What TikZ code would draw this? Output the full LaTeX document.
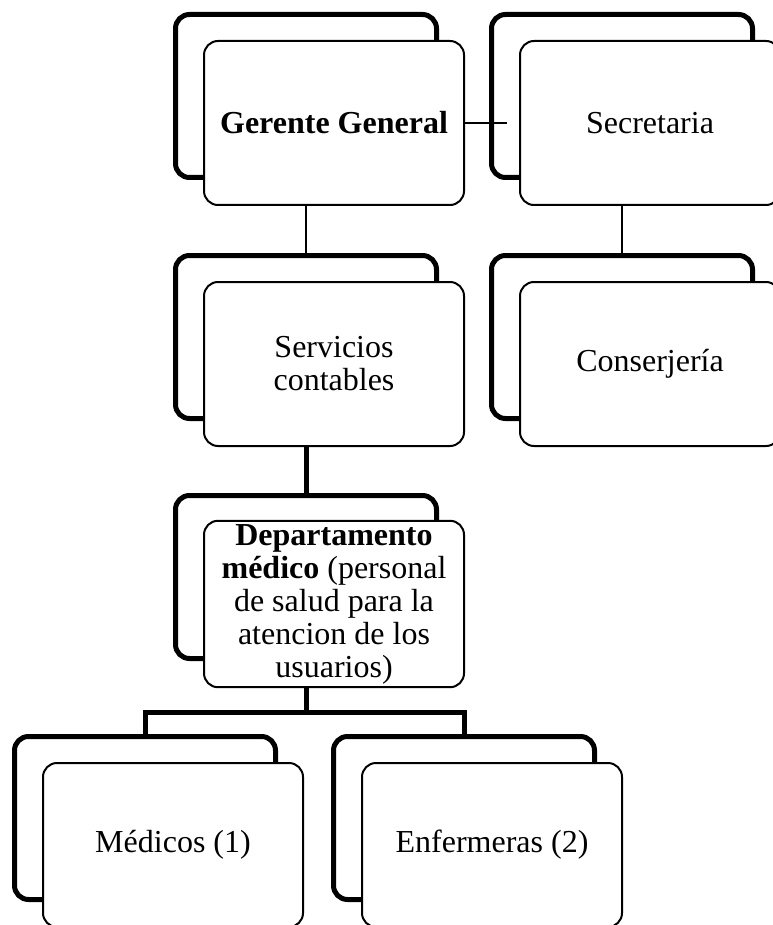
\documentclass[tikz,border=0pt]{standalone}
\usepackage{fontspec}
\setmainfont{Liberation Serif}

\tikzset{
  back/.style={draw, line width=5pt, rounded corners=14pt, minimum width=261pt, minimum height=163pt},
  front/.style={draw, fill=white, line width=2pt, rounded corners=14pt, minimum width=260pt,
    minimum height=164pt, align=center, font=\fontsize{32}{33}\selectfont},
  thinlink/.style={line width=2pt},
  thicklink/.style={line width=5pt},
}

\begin{document}
\begin{tikzpicture}[x=1pt, y=-1pt]
\useasboundingbox (0,0) rectangle (772,925);

% back boxes
\node[back] (gerenteB) at (306,96) {};
\node[back] (secretariaB) at (622,96) {};
\node[back] (serviciosB) at (306,337) {};
\node[back] (conserjeriaB) at (622,337) {};
\node[back] (deptB) at (306,577) {};
\node[back] (medicosB) at (145,818) {};
\node[back] (enfermerasB) at (464,818) {};

% front boxes
\node[front] (gerente) at ([shift={(28,27)}]gerenteB) {\textbf{Gerente General}};
\node[front] (secretaria) at ([shift={(28,27)}]secretariaB) {Secretaria};
\node[front] (servicios) at ([shift={(28,27)}]serviciosB) {Servicios\\contables};
\node[front] (conserjeria) at ([shift={(28,27)}]conserjeriaB) {Conserjería};
\node[front] (dept) at ([shift={(28,27)}]deptB) {\textbf{Departamento}\\\textbf{médico} (personal\\de salud para la\\atencion de los\\usuarios)};
\node[front] (medicos) at ([shift={(28,27)}]medicosB) {Médicos (1)};
\node[front] (enfermeras) at ([shift={(28,27)}]enfermerasB) {Enfermeras (2)};

% links
\coordinate (secIn) at (507,123);
\coordinate (bar) at (306,712);
\draw[thinlink] (gerente.east) -- (secIn);
\draw[thinlink] (gerente.south -| gerenteB.south) -- (serviciosB.north);
\draw[thinlink] (secretaria.south -| secretariaB.south) -- (conserjeriaB.north);
\draw[thicklink] (servicios.south -| serviciosB.south) -- (deptB.north);
\draw[thicklink] (dept.south -| deptB.south) -- (bar);
\draw[thicklink] (bar) -| (medicosB.north);
\draw[thicklink] (bar) -| (enfermerasB.north);
\end{tikzpicture}
\end{document}
